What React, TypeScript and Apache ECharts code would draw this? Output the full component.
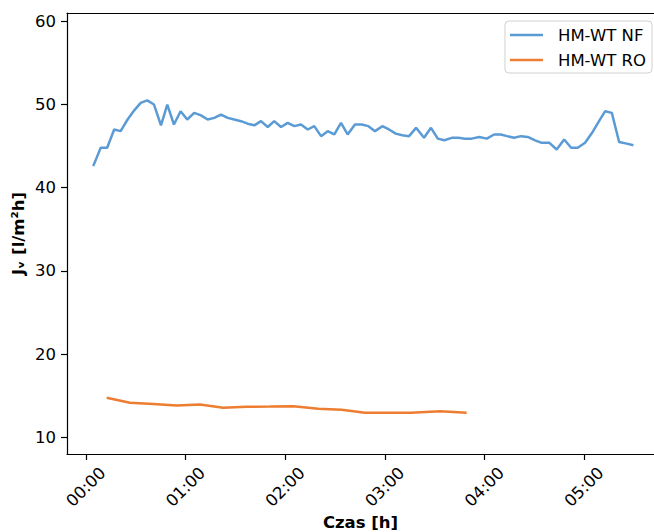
import React, { useEffect, useRef } from "react";
import * as echarts from "echarts";

// time in minutes since start, flux values
const nfTimes = [
  4.4, 8.9, 12.8, 17.0, 20.9, 25.1, 29.1, 33.0, 36.9, 41.0, 45.2, 49.0, 53.0, 57.0, 61.0, 65.2,
  69.3, 73.3, 77.3, 81.3, 85.4, 89.3, 93.4, 97.4, 101.4, 105.4, 109.5, 113.4, 117.5, 121.5,
  125.5, 129.5, 133.6, 137.5, 141.6, 145.6, 149.6, 153.6, 157.6, 162.0, 166.1, 170.1, 174.1,
  178.5, 182.5, 186.6, 190.5, 194.6, 198.8, 203.6, 207.8, 211.9, 215.8, 220.3, 224.3, 228.3,
  232.3, 236.9, 241.4, 245.8, 249.8, 253.6, 257.8, 262.0, 266.1, 270.5, 274.5, 279.1, 283.5,
  288.0, 292.2, 296.2, 300.6, 304.8, 309.0, 312.7, 316.7, 321.1, 325.7, 329.7,
];
const nfValues = [
  42.6, 44.8, 44.8, 47.0, 46.8, 48.2, 49.3, 50.2, 50.5, 50.0, 47.5, 50.0, 47.6, 49.2, 48.2, 49.0,
  48.7, 48.2, 48.4, 48.8, 48.4, 48.2, 48.0, 47.7, 47.5, 48.0, 47.3, 48.0, 47.3, 47.8,
  47.4, 47.6, 47.0, 47.4, 46.2, 46.8, 46.4, 47.8, 46.4, 47.6, 47.6, 47.4, 46.8,
  47.4, 47.0, 46.5, 46.3, 46.2, 47.2, 46.0, 47.2, 45.9, 45.7, 46.0, 46.0, 45.9,
  45.9, 46.1, 45.9, 46.4, 46.4, 46.2, 46.0, 46.2, 46.1, 45.7, 45.4, 45.4, 44.6,
  45.8, 44.8, 44.8, 45.4, 46.6, 48.0, 49.2, 49.0, 45.5, 45.3, 45.1,
];
const roTimes = [12.5, 26.5, 40.5, 54.6, 68.7, 82.7, 96.8, 110.8, 124.9, 139.9, 154.0, 168.0, 181.9, 195.8, 213.3, 229.3];
const roValues = [14.76, 14.16, 14.0, 13.84, 13.96, 13.56, 13.68, 13.7, 13.75, 13.44, 13.32, 12.96, 12.96, 12.96, 13.15, 12.96];

const seriesNames = ["HM-WT NF", "HM-WT RO"];
const xTicks = [0, 60, 120, 180, 240, 300];
const yTicks = [10, 20, 30, 40, 50, 60];

const FONT = "DejaVu Sans";
const X_MIN = -11.4;
const X_MAX = 342.1;

function fmtTime(m: number): string {
  const h = Math.floor(m / 60);
  const mm = Math.round(m - h * 60);
  return String(h).padStart(2, "0") + ":" + String(mm).padStart(2, "0");
}

export default function App() {
  const ref = useRef<HTMLDivElement>(null);
  useEffect(() => {
    if (!ref.current) return;
    const chart = echarts.init(ref.current, null, { renderer: "svg" });
    chart.setOption({
      animation: false,
      backgroundColor: "#fff",
      textStyle: { fontFamily: FONT },
      grid: {
        left: 67,
        top: 13,
        right: 0,
        bottom: 78,
        show: false,
        outerBoundsMode: "none",
        containLabel: false,
      },
      legend: {
        orient: "vertical",
        right: 2,
        top: 21,
        backgroundColor: "#fff",
        borderColor: "#d0d0d0",
        borderWidth: 1,
        borderRadius: 4,
        padding: [4, 6, 3, 5],
        itemGap: 5,
        itemWidth: 33,
        itemHeight: 2.5,
        icon: "rect",
        textStyle: { fontFamily: FONT, fontSize: 16.5, color: "#000", lineHeight: 20, padding: [0, 0, 0, 10] },
        data: seriesNames,
      },
      xAxis: [
        {
          type: "value",
          min: X_MIN,
          max: X_MAX,
          name: "Czas [h]",
          nameLocation: "middle",
          nameGap: 59,
          nameMoveOverlap: false,
          nameTextStyle: {
            fontFamily: FONT,
            fontSize: 16.5,
            fontWeight: "bold",
            color: "#000",
            verticalAlign: "top",
            lineHeight: 18,
          },
          axisLine: { show: true, onZero: false, lineStyle: { color: "#000", width: 1.2 } },
          axisTick: { show: true, length: 6, lineStyle: { color: "#000", width: 1.2 }, customValues: xTicks },
          axisLabel: {
            customValues: xTicks,
            rotate: 45,
            align: "center",
            verticalAlign: "middle",
            margin: 33,
            fontFamily: FONT,
            fontSize: 16.5,
            color: "#000",
            formatter: (v: number) => fmtTime(v),
          },
          splitLine: { show: false },
        },
        {
          type: "value",
          position: "top",
          min: X_MIN,
          max: X_MAX,
          axisLine: { show: true, onZero: false, lineStyle: { color: "#000", width: 1.2 } },
          axisTick: { show: false },
          axisLabel: { show: false },
          splitLine: { show: false },
        },
      ],
      yAxis: {
        type: "value",
        min: 8,
        max: 61,
        name: "Jᵥ [l/m²h]",
        nameLocation: "middle",
        nameGap: 40,
        nameMoveOverlap: false,
        nameTextStyle: { fontFamily: FONT, fontSize: 16.5, fontWeight: "bold", color: "#000" },
        axisLine: { show: true, onZero: false, lineStyle: { color: "#000", width: 1.2 } },
        axisTick: { show: true, length: 6, lineStyle: { color: "#000", width: 1.2 }, customValues: yTicks },
        axisLabel: {
          customValues: yTicks,
          margin: 11,
          fontFamily: FONT,
          fontSize: 16.5,
          color: "#000",
        },
        splitLine: { show: false },
      },
      series: [
        {
          name: seriesNames[0],
          type: "line",
          xAxisIndex: 0,
          data: nfTimes.map((t, i) => [t, nfValues[i]]),
          showSymbol: false,
          symbol: "none",
          lineStyle: { color: "#5b9bd5", width: 2.5 },
          itemStyle: { color: "#5b9bd5" },
        },
        {
          name: seriesNames[1],
          type: "line",
          xAxisIndex: 0,
          data: roTimes.map((t, i) => [t, roValues[i]]),
          showSymbol: false,
          symbol: "none",
          lineStyle: { color: "#ed7d31", width: 2.5 },
          itemStyle: { color: "#ed7d31" },
        },
      ],
    });
    return () => chart.dispose();
  }, []);
  return <div ref={ref} style={{ position: "absolute", left: 0, top: 0, width: 654, height: 532 }} />;
}
